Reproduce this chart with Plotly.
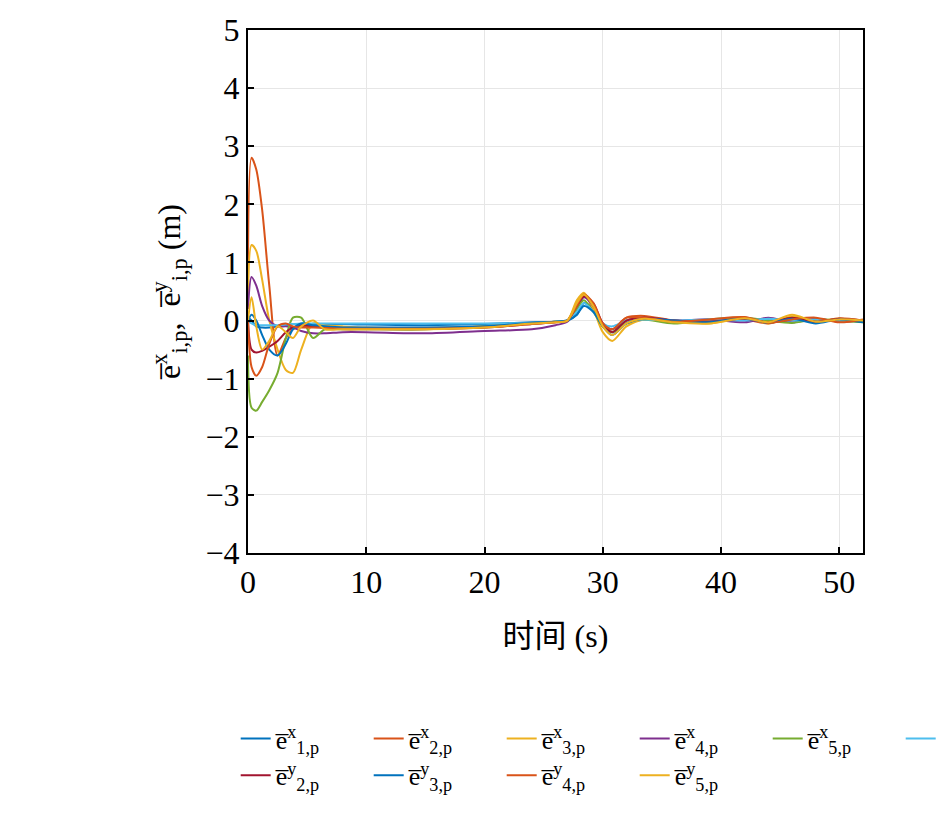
import plotly.graph_objects as go

# Sample times (s) and tracking errors
t = [0, 0.3, 0.7, 1.2, 1.8, 2.5, 3.2, 3.8, 4.5, 5.5, 6.5, 8, 10, 15, 20, 24, 26, 27, 27.8, 28.4, 29.2, 30, 30.8, 32, 33.5, 36, 39, 42, 44, 46, 48, 50, 52]

e1x = [0.05, 0.0, -0.1, -0.12, -0.12, -0.1, -0.08, -0.06, -0.06, -0.06, -0.06, -0.06, -0.07, -0.08, -0.06, -0.03, -0.02, 0.0, 0.1, 0.3, 0.2, -0.1, -0.2, -0.05, 0.02, 0.0, -0.01, 0.03, 0.0, 0.04, 0.0, 0.02, 0.0]
e2x = [0.3, 2.8, 2.6, 1.9, 0.6, -0.6, -0.3, -0.15, -0.1, -0.1, -0.12, -0.15, -0.15, -0.15, -0.1, -0.05, -0.02, 0.0, 0.3, 0.45, 0.2, -0.1, -0.15, 0.05, 0.08, 0.0, -0.03, 0.02, -0.05, 0.05, -0.03, 0.04, 0.0]
e3x = [0.3, 1.3, 1.2, 0.7, 0.0, -0.5, -0.85, -0.9, -0.5, -0.05, -0.08, -0.1, -0.12, -0.13, -0.1, -0.05, -0.02, 0.0, 0.35, 0.48, 0.2, -0.2, -0.35, -0.1, 0.02, 0.0, -0.05, 0.05, -0.05, 0.07, 0.0, 0.03, 0.0]
e4x = [0.2, 0.75, 0.6, 0.25, 0.0, -0.1, -0.1, -0.12, -0.18, -0.22, -0.22, -0.2, -0.2, -0.22, -0.18, -0.15, -0.08, -0.02, 0.2, 0.4, 0.25, -0.05, -0.15, 0.0, 0.05, 0.0, 0.02, -0.03, 0.05, -0.03, 0.03, -0.02, 0.0]
e5x = [-0.6, -1.5, -1.55, -1.4, -1.2, -0.9, -0.3, 0.05, 0.05, -0.3, -0.15, -0.15, -0.15, -0.15, -0.1, -0.05, -0.02, 0.0, 0.2, 0.35, 0.15, -0.1, -0.2, 0.0, 0.02, -0.05, 0.02, 0.05, 0.0, -0.04, 0.02, 0.0, -0.03]
e1y = [0.0, -0.05, -0.08, -0.08, -0.08, -0.08, -0.07, -0.06, -0.05, -0.05, -0.05, -0.05, -0.05, -0.05, -0.05, -0.04, -0.02, 0.0, 0.15, 0.3, 0.15, -0.05, -0.1, 0.0, 0.02, 0.0, 0.02, 0.0, 0.03, 0.0, 0.02, 0.0, 0.0]
e2y = [0.0, -0.5, -0.55, -0.52, -0.45, -0.35, -0.2, -0.12, -0.08, -0.1, -0.12, -0.13, -0.13, -0.14, -0.12, -0.06, -0.03, 0.0, 0.25, 0.42, 0.3, -0.05, -0.2, 0.0, 0.05, 0.0, -0.02, 0.03, -0.03, 0.05, -0.02, 0.03, 0.0]
e3y = [0.0, 0.1, 0.0, -0.25, -0.5, -0.6, -0.4, -0.15, -0.05, -0.08, -0.1, -0.12, -0.12, -0.12, -0.1, -0.04, -0.02, 0.0, 0.1, 0.25, 0.15, -0.1, -0.25, -0.05, 0.03, 0.0, -0.03, 0.04, -0.04, 0.03, -0.05, 0.02, -0.03]
e4y = [0.0, -0.8, -0.95, -0.8, -0.4, -0.1, -0.05, -0.1, -0.12, -0.12, -0.13, -0.14, -0.14, -0.14, -0.12, -0.06, -0.03, 0.0, 0.25, 0.45, 0.3, -0.05, -0.15, 0.05, 0.05, -0.02, 0.02, 0.06, -0.04, 0.02, 0.05, -0.03, 0.02]
e5y = [0.0, 0.4, -0.1, -0.5, -0.35, -0.1, -0.2, -0.3, -0.1, 0.0, -0.15, -0.15, -0.15, -0.15, -0.12, -0.05, -0.03, 0.0, 0.3, 0.45, 0.25, -0.1, -0.25, -0.05, 0.03, -0.03, -0.05, 0.04, -0.03, 0.1, -0.02, 0.02, 0.0]

names = ["e&#773;<sup>x</sup><sub>1,p</sub>", "e&#773;<sup>x</sup><sub>2,p</sub>", "e&#773;<sup>x</sup><sub>3,p</sub>",
         "e&#773;<sup>x</sup><sub>4,p</sub>", "e&#773;<sup>x</sup><sub>5,p</sub>",
         "e&#773;<sup>y</sup><sub>1,p</sub>", "e&#773;<sup>y</sup><sub>2,p</sub>", "e&#773;<sup>y</sup><sub>3,p</sub>",
         "e&#773;<sup>y</sup><sub>4,p</sub>", "e&#773;<sup>y</sup><sub>5,p</sub>"]
series = [e1x, e2x, e3x, e4x, e5x, e1y, e2y, e3y, e4y, e5y]

# MATLAB default colour order
colors = ['#0072BD', '#D95319', '#EDB120', '#7E2F8E', '#77AC30',
          '#4DBEEE', '#A2142F', '#0072BD', '#D95319', '#EDB120']

fig = go.Figure()
for name, vals, c in zip(names, series, colors):
    fig.add_trace(go.Scatter(x=t, y=vals, name=name, mode='lines',
                             line=dict(color=c, width=2, shape='spline', smoothing=0.8)))

serif = "Liberation Serif, Noto Sans CJK SC"
axis_style = dict(showline=True, linecolor='black', linewidth=2, mirror=True,
                  ticks='inside', ticklen=6, tickwidth=2, tickcolor='black',
                  showgrid=True, gridcolor='#e6e6e6', zeroline=False,
                  tickfont=dict(size=32, color='black', family=serif))

fig.update_layout(
    width=945, height=822,
    plot_bgcolor='white', paper_bgcolor='white',
    margin=dict(l=240, r=90, t=22, b=277, autoexpand=False),
    font=dict(family=serif, color='black'),
    xaxis=dict(range=[0, 52], dtick=10, title=dict(text="时间 (s)", font=dict(size=32), standoff=25), **axis_style),
    yaxis=dict(range=[-4, 5], dtick=1, title=dict(text="e&#773;<sup>x</sup><sub>i,p</sub>,  e&#773;<sup>y</sup><sub>i,p</sub> (m)", font=dict(size=32), standoff=15), **axis_style),
    legend=dict(orientation='h', x=-0.02, y=-0.31, xanchor='left', yanchor='top',
                entrywidth=88, font=dict(size=26), tracegroupgap=0),
)

fig.write_html("out.html")
